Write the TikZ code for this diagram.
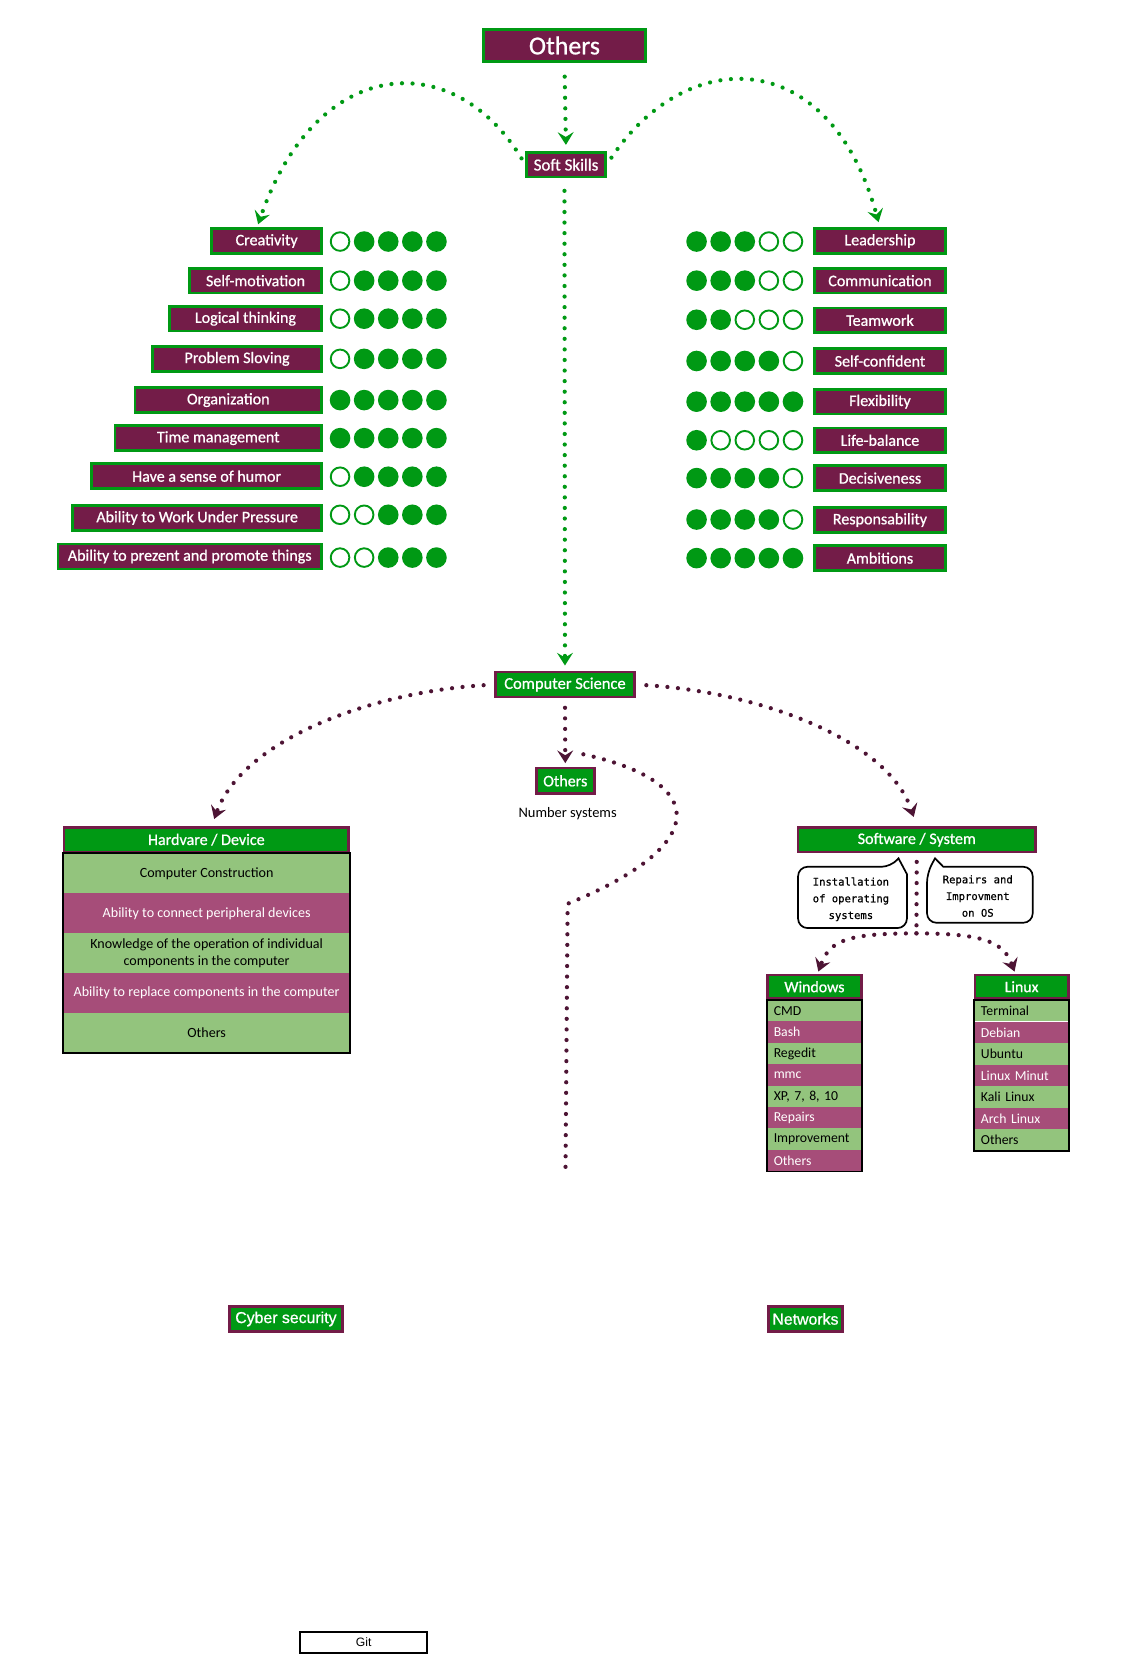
\documentclass[tikz,border=0pt]{standalone}
\usepackage{fontspec}
\setmainfont{Carlito}
\newfontfamily\medf{Carlito}[FakeBold=0.8]
\newfontfamily\arialf{Liberation Sans}
\newfontfamily\arialm{Liberation Sans}[FakeBold=0.8]
\newfontfamily\bubf{DejaVu Sans Mono}[FakeBold=0.6]
\usetikzlibrary{arrows.meta}
\definecolor{maroon}{RGB}{115,28,72}
\definecolor{grn}{RGB}{0,153,20}
\definecolor{lgrn}{RGB}{147,196,125}
\definecolor{pnk}{RGB}{166,77,121}
\definecolor{dmar}{RGB}{77,20,52}
\newcommand\lsk[4]{\node[skill, minimum width={305.5-#2-2.5}] (#1) at ({(#2+305.5)/2},#3) {#4};}
\newcommand\rsk[3]{\node[skill, minimum width=124.5] (#1) at (832.5,#2) {#3};}
\newcommand\ratings[4]{\foreach \v [count=\i] in {#4} {\ifnum\v=1 \node[rfull] (#1\i) at ({#2+(\i-1)*22.8},#3) {};\else \node[rempty] (#1\i) at ({#2+(\i-1)*22.8},#3) {};\fi}}
\begin{document}
\begin{tikzpicture}[x=1pt,y=-1pt,
  skill/.style={draw=grn, fill=maroon, line width=2.5pt, text=white, font=\medf\fontsize{15.2}{17}\selectfont, inner sep=0pt, minimum height=23.5pt},
  gbox/.style={draw=maroon, fill=grn, line width=2.5pt, text=white, inner sep=0pt},
  rfull/.style={circle, fill=grn, minimum size=19.5pt, inner sep=0pt},
  rempty/.style={circle, draw=grn, fill=white, line width=1.8pt, minimum size=17.6pt, inner sep=0pt},
  gdots/.style={draw=grn, line width=4pt, line cap=round, dash pattern=on 0pt off 10pt},
  mdots/.style={draw=dmar, line width=4pt, line cap=round, dash pattern=on 0pt off 10pt},
  tip/.style={-{Stealth[length=12pt,width=15pt,inset=4.5pt]}},
  hrow/.style={minimum width=271pt, minimum height=37.8pt, inner sep=0pt, font=\fontsize{13.3}{15.5}\selectfont, align=center},
  wrow/.style={text width=77pt, inner xsep=6pt, inner ysep=0pt, minimum height=20.3pt, align=left, font=\fontsize{13}{14}\selectfont},
  frame/.style={draw=black, line width=1.8pt},
  bubble/.style={draw=black, line width=1.6pt, rounded corners=9pt},
  bubtext/.style={font=\bubf\fontsize{10}{15.8}\selectfont, align=center, inner sep=0pt}
]
\useasboundingbox (0,0) rectangle (1067.2,1569.5);

% top
\node[skill, line width=3pt, minimum width=153pt, minimum height=30pt, font=\medf\fontsize{24.5}{26}\selectfont] (top) at (534,43) {Others};
\node[skill, minimum width=74.5pt, minimum height=23pt, font=\medf\fontsize{16}{18}\selectfont] (ss) at (535.5,155.8) {Soft Skills};

% left skills
\lsk{cre}{199}{228}{Creativity}
\lsk{smo}{178}{265.5}{Self-motivation}
\lsk{log}{159}{301.5}{Logical thinking}
\lsk{pro}{143}{339.5}{Problem Sloving}
\lsk{org}{126.5}{378.5}{Organization}
\lsk{tim}{107.5}{414.5}{Time management}
\lsk{hum}{85.5}{450.5}{Have a sense of humor}
\lsk{pre}{67.5}{490}{Ability to Work Under Pressure}
\lsk{prz}{53.5}{526.5}{Ability to prezent and promote things}

\ratings{rc}{321.7}{228.5}{0,1,1,1,1}
\ratings{rs}{321.7}{265.5}{0,1,1,1,1}
\ratings{rl}{321.7}{301.5}{0,1,1,1,1}
\ratings{rp}{321.7}{339.5}{0,1,1,1,1}
\ratings{ro}{321.7}{378.5}{1,1,1,1,1}
\ratings{rt}{321.7}{414.5}{1,1,1,1,1}
\ratings{rh}{321.7}{451}{0,1,1,1,1}
\ratings{rw}{321.7}{487}{0,0,1,1,1}
\ratings{rz}{321.7}{527.5}{0,0,1,1,1}

% right skills
\rsk{lea}{228}{Leadership}
\rsk{com}{265.5}{Communication}
\rsk{tea}{303}{Teamwork}
\rsk{sco}{341.5}{Self-confident}
\rsk{fle}{380}{Flexibility}
\rsk{lif}{416.5}{Life-balance}
\rsk{dec}{452.3}{Decisiveness}
\rsk{res}{492}{Responsability}
\rsk{amb}{528}{Ambitions}

\ratings{qa}{659}{228.5}{1,1,1,0,0}
\ratings{qb}{659}{265.5}{1,1,1,0,0}
\ratings{qc}{659}{302.5}{1,1,0,0,0}
\ratings{qd}{659}{341.5}{1,1,1,1,0}
\ratings{qe}{659}{380}{1,1,1,1,1}
\ratings{qf}{659}{416.5}{1,0,0,0,0}
\ratings{qg}{659}{452.3}{1,1,1,1,0}
\ratings{qh}{659}{491.5}{1,1,1,1,0}
\ratings{qi}{659}{528}{1,1,1,1,1}

% soft skills connectors
\draw[gdots, tip, shorten <=13pt, shorten >=6pt] (top.south) -- (ss.north);
\draw[gdots, tip, shorten <=7pt, shorten >=3pt] (ss.west) .. controls (430,45) and (300,50) .. ([xshift=-9pt]cre.north);
\draw[gdots, tip, shorten <=8pt, shorten >=5pt] (ss.east) .. controls (650,42) and (785,42) .. (lea.north);

% computer science
\node[gbox, minimum width=131.5pt, minimum height=23.5pt, font=\medf\fontsize{15.6}{18}\selectfont] (cs) at (534.5,647.6) {Computer Science};
\draw[gdots, tip, shorten <=12pt, shorten >=5pt] ([xshift=-1.5pt]ss.south) -- (cs.north);

\node[gbox, minimum width=55pt, minimum height=24pt, font=\medf\fontsize{15.2}{17}\selectfont] (oth) at (534.8,738.7) {Others};
\node[font=\fontsize{13.7}{15}\selectfont, inner sep=0pt] (num) at (537,769.5) {Number systems};
\draw[mdots, tip, shorten <=9pt, shorten >=3.5pt] (cs.south) -- (oth.north);

\coordinate (w0) at (551.9,713.6);
\coordinate (w1) at (537,855);
\coordinate (w2) at (535,1105);
\draw[mdots] (w0) .. controls (672,740) and (672,800) .. (w1) -- (w2);

% hardware
\node[gbox, minimum width=269pt, minimum height=23.5pt, font=\medf\fontsize{15.2}{17}\selectfont] (hw) at (195.2,794.4) {Hardvare / Device};
\node[hrow, fill=lgrn] (hw1) at (195.5,826.2) {Computer Construction};
\node[hrow, fill=pnk, text=white] (hw2) at (195.5,864) {Ability to connect peripheral devices};
\node[hrow, fill=lgrn] (hw3) at (195.5,901.8) {Knowledge of the operation of individual\\components in the computer};
\node[hrow, fill=pnk, text=white] (hw4) at (195.5,939.6) {Ability to replace components in the computer};
\node[hrow, fill=lgrn] (hw5) at (195.5,977.4) {Others};
\draw[frame] (hw1.north west) rectangle (hw5.south east);

\draw[mdots, tip, shorten <=10pt, shorten >=7pt] (cs.west) .. controls (350,655) and (230,700) .. ([xshift=5pt]hw.north);

% software
\node[gbox, minimum width=224.5pt, minimum height=23.5pt, font=\medf\fontsize{15.2}{17}\selectfont] (sw) at (867.3,794.4) {Software / System};
\draw[mdots, tip, shorten <=10pt, shorten >=9pt] (cs.east) .. controls (720,655) and (840,700) .. (sw.north);

\draw[bubble] (755,849) |- (843,820) [sharp corners] -- (850,812) -- (858,827) [rounded corners=9pt] |- (755,878) -- cycle;
\draw[bubble] (892.4,820) -| (977,846) |- (877,873) -- (877,826) [sharp corners] -- (884.6,812) -- cycle;
\node[bubtext] (b1) at (805,850.8) {Installation\\of operating\\systems};
\node[bubtext] (b2) at (925,847.7) {Repairs and\\Improvment\\on OS};

\coordinate (sv) at (867,883);
\draw[mdots, shorten <=8pt] (sw.south) -- (sv);
\node[gbox, minimum width=88.5pt, minimum height=22.5pt, font=\medf\fontsize{15}{17}\selectfont] (win) at (770.5,933.5) {Windows};
\node[gbox, minimum width=88.5pt, minimum height=22.5pt, font=\medf\fontsize{15}{17}\selectfont] (lin) at (966.5,933.5) {Linux};
\draw[mdots, tip, shorten >=2pt] (sv) .. controls (800,883) and (785,890) .. ([xshift=3pt]win.north);
\draw[mdots, tip, shorten >=2pt] (sv) .. controls (935,883) and (950,893) .. ([xshift=-6pt]lin.north);

\node[wrow, fill=lgrn] (wi1) at (770.5,956.1) {CMD};
\node[wrow, fill=pnk, text=white] (wi2) at (770.5,976.4) {Bash};
\node[wrow, fill=lgrn] (wi3) at (770.5,996.6) {Regedit};
\node[wrow, fill=pnk, text=white] (wi4) at (770.5,1016.9) {mmc};
\node[wrow, fill=lgrn] (wi5) at (770.5,1037.1) {XP, 7, 8, 10};
\node[wrow, fill=pnk, text=white] (wi6) at (770.5,1057.4) {Repairs};
\node[wrow, fill=lgrn] (wi7) at (770.5,1077.6) {Improvement};
\node[wrow, fill=pnk, text=white] (wi8) at (770.5,1097.9) {Others};
\draw[frame] (wi1.north west) rectangle (wi8.south east);

\node[wrow, fill=lgrn] (li1) at (966.5,956.2) {Terminal};
\node[wrow, fill=pnk, text=white] (li2) at (966.5,976.6) {Debian};
\node[wrow, fill=lgrn] (li3) at (966.5,997) {Ubuntu};
\node[wrow, fill=pnk, text=white] (li4) at (966.5,1017.4) {Linux Minut};
\node[wrow, fill=lgrn] (li5) at (966.5,1037.8) {Kali Linux};
\node[wrow, fill=pnk, text=white] (li6) at (966.5,1058.2) {Arch Linux};
\node[wrow, fill=lgrn] (li7) at (966.5,1078.6) {Others};
\draw[frame] (li1.north west) rectangle (li7.south east);

% bottom
\node[gbox, minimum width=106.5pt, minimum height=24pt, font=\arialm\fontsize{15}{17}\selectfont] (cyb) at (270.5,1247.8) {Cyber security};
\node[gbox, minimum width=70.5pt, minimum height=24pt, font=\arialm\fontsize{15}{17}\selectfont] (net) at (762,1247.8) {Networks};
\node[draw=black, line width=1.8pt, minimum width=120pt, minimum height=20pt, inner sep=0pt, font=\arialf\fontsize{11.5}{13}\selectfont] (git) at (344,1554) {Git};
\end{tikzpicture}
\end{document}
